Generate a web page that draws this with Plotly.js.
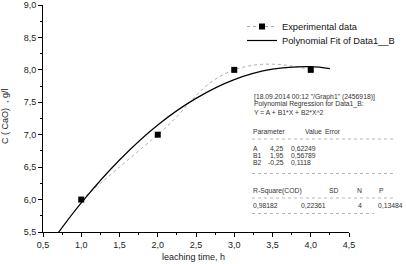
<!DOCTYPE html>
<html><head><meta charset="utf-8">
<script src="https://cdn.plot.ly/plotly-3.0.1.min.js"></script>
<style>html,body{margin:0;padding:0;background:#fff}#c{width:406px;height:264px}</style>
</head><body><div id="c"></div>
<script>
// Experimental data
const expX = [1, 2, 3, 4];
const expY = [6.0, 7.0, 8.0, 8.0];
// Polynomial fit curve
const fitX = [0.7, 1.0, 1.5, 2.0, 2.5, 3.0, 3.5, 4.0, 4.25];
const fitY = [5.49, 5.95, 6.61, 7.15, 7.56, 7.85, 8.01, 8.05, 8.02];
const xTicks = [0.5, 1.0, 1.5, 2.0, 2.5, 3.0, 3.5, 4.0, 4.5];
const yTicks = [5.5, 6.0, 6.5, 7.0, 7.5, 8.0, 8.5, 9.0];

const L = 43, R = 57, T = 5, B = 32, W = 406, H = 264;
const pw = W - L - R, ph = H - T - B;
const px = v => (v - L) / pw;
const py = v => (H - B - v) / ph;

const txtFont = {family: 'Liberation Sans, Arial, sans-serif', size: 6.8, color: '#333'};
function note(x, y, text, extra) {
  return Object.assign({xref: 'paper', yref: 'paper', x: px(x), y: py(y), xanchor: 'left', yanchor: 'middle',
    text: text, showarrow: false, font: txtFont, borderpad: 0}, extra || {});
}
const axFont = {family: 'Liberation Sans, Arial, sans-serif', size: 9, color: '#222'};
const annotations = [
  note(253, 96.5, '[18.09.2014 00:12 "/Graph1" (2456918)]'),
  note(253, 104.5, 'Polynomial Regression for Data1_B:'),
  note(253, 112, 'Y = A + B1*X + B2*X^2'),
  note(252, 131, 'Parameter'), note(304, 131, 'Value'), note(324, 131, 'Error'),
  note(252, 148, 'A'), note(269, 148, '4,25'), note(290, 148, '0,62249'),
  note(252, 155.3, 'B1'), note(269, 155.3, '1,95'), note(290, 155.3, '0,56789'),
  note(252, 162.6, 'B2'), note(267, 162.6, '-0,25'), note(290, 162.6, '0,1118'),
  note(252, 190.5, 'R-Square(COD)'), note(328, 190.5, 'SD'), note(356, 190.5, 'N'), note(378, 190.5, 'P'),
  note(252, 205, '0,98182'), note(300, 205, '0,22361'), note(357, 205, '4'), note(377, 205, '0,13484'),
  note(193, 257, 'leaching time, h', {xanchor: 'center', font: axFont}),
  note(5, 116, 'C ( CaO)  , g/l', {xanchor: 'center', textangle: -90, font: axFont})
];
function dots(x0, x1, y) {
  return {type: 'line', xref: 'paper', yref: 'paper', x0: px(x0), x1: px(x1), y0: py(y), y1: py(y),
    line: {color: '#999', width: 0.7, dash: 'dot'}};
}
const shapes = [dots(252, 393, 139), dots(252, 393, 173.5), dots(252, 393, 198), dots(252, 374, 213.5)];

const data = [
  {x: expX, y: expY, type: 'scatter', mode: 'lines+markers', name: 'Experimental data', legend: 'legend',
   line: {color: '#aaa', width: 1, dash: 'dot', shape: 'spline', smoothing: 1.3},
   marker: {symbol: 'square', size: 6, color: '#000'}},
  {x: fitX, y: fitY, type: 'scatter', mode: 'lines', name: 'Polynomial Fit of Data1__B', legend: 'legend2',
   line: {color: '#000', width: 1.2, shape: 'spline'}}
];
const legFont = {family: 'Liberation Sans, Arial, sans-serif', size: 9.3, color: '#111'};
const layout = {
  width: W, height: H, margin: {l: L, r: R, t: T, b: B, pad: 0, autoexpand: false},
  paper_bgcolor: '#fff', plot_bgcolor: '#fff', separators: ',.',
  showlegend: true,
  legend: {x: px(242), y: py(12), xanchor: 'left', yanchor: 'top', bgcolor: 'rgba(0,0,0,0)',
    font: legFont, itemwidth: 30},
  legend2: {x: px(242), y: py(26), xanchor: 'left', yanchor: 'top', bgcolor: 'rgba(0,0,0,0)',
    font: legFont, itemwidth: 30},
  xaxis: {range: [0.5, 4.5], tickvals: xTicks, tickformat: '.1f', ticks: 'outside', ticklen: 4,
    tickcolor: '#000', showline: true, linecolor: '#000', linewidth: 1, showgrid: false, zeroline: false,
    tickfont: axFont, ticklabeloverflow: 'allow',
    minor: {dtick: 0.25, ticks: 'outside', ticklen: 2, tickcolor: '#000', showgrid: false}},
  yaxis: {range: [5.5, 9.0], tickvals: yTicks, tickformat: '.1f', ticks: 'outside', ticklen: 4,
    tickcolor: '#000', showline: true, linecolor: '#000', linewidth: 1, showgrid: false, zeroline: false,
    tickfont: axFont, ticklabeloverflow: 'allow',
    minor: {dtick: 0.25, ticks: 'outside', ticklen: 2, tickcolor: '#000', showgrid: false}},
  annotations: annotations, shapes: shapes
};
Plotly.newPlot('c', data, layout, {displayModeBar: false, staticPlot: true});
</script></body></html>
